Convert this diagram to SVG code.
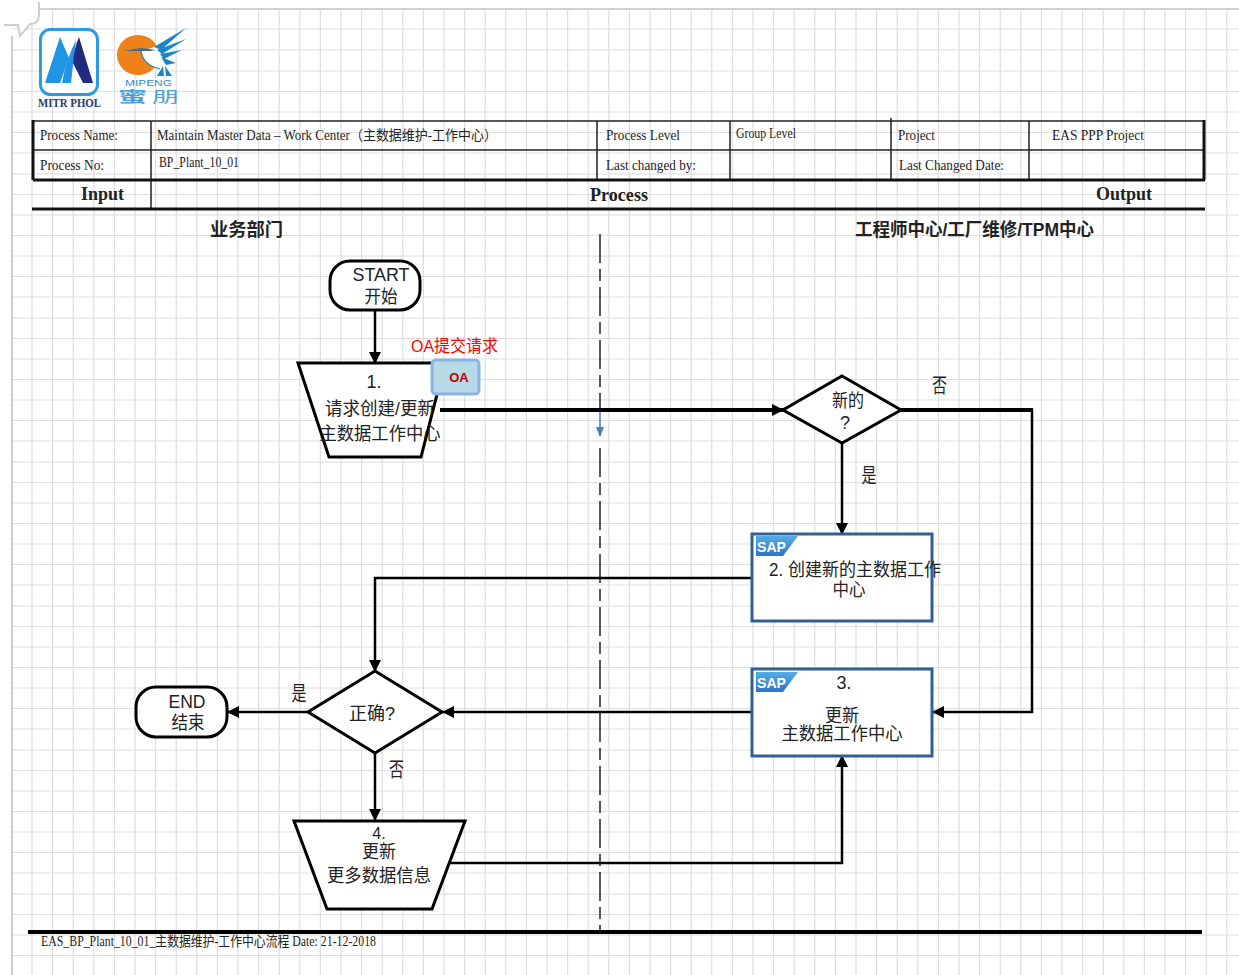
<svg xmlns="http://www.w3.org/2000/svg" width="1239" height="975" viewBox="0 0 1239 975">
<style>
.gl{stroke:#dedede;stroke-width:1.200;fill:none}
.hd{font-family:"Liberation Serif","Noto Sans CJK SC",serif;font-size:14px;fill:#222}
.bh{font-family:"Liberation Serif","Noto Sans CJK SC",serif;font-size:19px;font-weight:bold;fill:#222}
.lane{font-family:"Liberation Sans","Noto Sans CJK SC",sans-serif;font-size:18px;font-weight:bold;fill:#222}
.t{font-family:"Liberation Sans","Noto Sans CJK SC",sans-serif;font-size:18px;fill:#222;text-anchor:middle}
.tall{font-size:20px}
.n{fill:#fff;stroke:#000;stroke-width:3}
.s{fill:#fff;stroke:#335f96;stroke-width:3}
.c{fill:none;stroke:#000;stroke-width:2.500}
.c4{fill:none;stroke:#000;stroke-width:4}
.b{fill:none;stroke:#111;stroke-width:3}
.th{fill:none;stroke:#222;stroke-width:1.500}
</style>
<defs>
<marker id="a" markerUnits="userSpaceOnUse" markerWidth="14" markerHeight="14" refX="11" refY="6" orient="auto"><path d="M0 0L12 6L0 12Z" fill="#000"/></marker>
<linearGradient id="sg" x1="0" y1="0" x2="0" y2="1"><stop offset="0" stop-color="#56ade6"/><stop offset="1" stop-color="#2f74c4"/></linearGradient>
<g id="sap"><path d="M0 0H42L27 20H0Z" fill="url(#sg)"/><text x="1" y="16" font-family="Liberation Sans,sans-serif" font-size="15" font-weight="bold" fill="#fff" textLength="29" lengthAdjust="spacingAndGlyphs">SAP</text></g>
</defs>
<rect width="1239" height="975" fill="#fff"/>
<path class="gl" d="M32 9V975M52.600 9V975M73.200 9V975M93.800 9V975M114.400 9V975M135 9V975M155.600 9V975M176.200 9V975M196.800 9V975M217.400 9V975M238 9V975M258.600 9V975M279.200 9V975M299.800 9V975M320.400 9V975M341 9V975M361.600 9V975M382.200 9V975M402.800 9V975M423.400 9V975M444 9V975M464.600 9V975M485.200 9V975M505.800 9V975M526.400 9V975M547 9V975M567.600 9V975M588.200 9V975M608.800 9V975M629.400 9V975M650 9V975M670.600 9V975M691.200 9V975M711.800 9V975M732.400 9V975M753 9V975M773.600 9V975M794.200 9V975M814.800 9V975M835.400 9V975M856 9V975M876.600 9V975M897.200 9V975M917.800 9V975M938.400 9V975M959 9V975M979.600 9V975M1000.200 9V975M1020.800 9V975M1041.400 9V975M1062 9V975M1082.600 9V975M1103.200 9V975M1123.800 9V975M1144.400 9V975M1165 9V975M1185.600 9V975M1206.200 9V975M1226.800 9V975"/>
<path class="gl" d="M12 29H1239M12 50H1239M12 71H1239M12 91.500H1239M12 112H1239M12 132.500H1239M12 153H1239M12 174H1239M12 194.500H1239M12 215H1239M12 235.500H1239M12 256H1239M12 276.500H1239M12 297H1239M12 318H1239M12 338.500H1239M12 359H1239M12 379.500H1239M12 400H1239M12 420.500H1239M12 441H1239M12 462H1239M12 482.500H1239M12 503H1239M12 523.500H1239M12 544H1239M12 564.500H1239M12 585H1239M12 606H1239M12 626.500H1239M12 647H1239M12 667.500H1239M12 688H1239M12 708.500H1239M12 729H1239M12 750H1239M12 770.500H1239M12 791H1239M12 811.500H1239M12 832H1239M12 852.500H1239M12 873H1239M12 894H1239M12 914.500H1239M12 935H1239M12 955.500H1239"/>
<path d="M12 975V36" stroke="#c9ccd2" stroke-width="2" fill="none"/>
<path d="M38 9H1239" stroke="#d0d0d0" stroke-width="2" fill="none"/>
<path d="M39 2V14Q39 24 30 24L20 36L18 25H4" fill="#fff" stroke="#cfcfcf" stroke-width="2"/>

<g id="logo-mitr">
<rect x="40.500" y="29.500" width="57" height="65" rx="10" fill="#fff" stroke="#2b9be3" stroke-width="3"/>
<path d="M45 83L60 37L69 58L60 83Z" fill="#1f95e4"/>
<path d="M62 83Q66 60 76 40L71 83Z" fill="#1f95e4"/>
<path d="M79 37L93 83H83L73 63Q74 48 79 37Z" fill="#232c7c"/>
<text x="69.500" y="107" text-anchor="middle" font-family="Liberation Serif,serif" font-size="11.500" font-weight="bold" fill="#2c3a75" textLength="63" lengthAdjust="spacingAndGlyphs">MITR PHOL</text>
</g>
<g id="logo-mipeng">
<ellipse cx="138" cy="55" rx="21" ry="20" fill="#ee8118"/>
<path d="M141 51Q143 66 163 70L172 58L166 38L154 47Z" fill="#fff"/>
<path d="M123 51L141 48Q150 49 156 50L150 51L141 51Q134 51 123 51Z" fill="#3b6f96"/>
<path d="M141 51Q143 65 160 69" fill="none" stroke="#2a7fb8" stroke-width="1.200"/>
<path d="M186 28L154 47L161 50ZM186 39L157 50L162 54ZM182 50L160 54L164 59ZM176 63L161 57L166 65Z" fill="#1c86c4"/>
<path d="M157 76L163 66L164 76ZM166 76L165 66L172 76Z" fill="#1c86c4"/>
<text x="125" y="86" font-family="Liberation Sans,sans-serif" font-size="9" fill="#2e8cc8" textLength="47" lengthAdjust="spacingAndGlyphs">MIPENG</text>
<text x="118" y="102" font-family="Noto Sans CJK SC,sans-serif" font-size="15" font-weight="bold" fill="#4aa0d8" textLength="29" lengthAdjust="spacingAndGlyphs">蜜</text>
<text x="152" y="102" font-family="Noto Sans CJK SC,sans-serif" font-size="15" fill="#4aa0d8" textLength="27" lengthAdjust="spacingAndGlyphs">朋</text>
</g>

<g id="header">
<path class="th" d="M33 121H1204M33 150H1204M151 121V208M597 121V180M730 121V180M891 118V180M1029 121V180"/>
<path class="b" d="M33 180H1205M33 120V180M1204 120V180"/>
<path class="b" d="M32 209H1205"/>
<text class="hd" x="40" y="140" textLength="78" lengthAdjust="spacingAndGlyphs">Process Name:</text>
<text class="hd" x="157" y="140" textLength="340" lengthAdjust="spacingAndGlyphs">Maintain Master Data – Work Center（主数据维护-工作中心）</text>
<text class="hd" x="606" y="140" textLength="74" lengthAdjust="spacingAndGlyphs">Process Level</text>
<text class="hd" x="736" y="138" textLength="60" lengthAdjust="spacingAndGlyphs">Group Level</text>
<text class="hd" x="898" y="140" textLength="37" lengthAdjust="spacingAndGlyphs">Project</text>
<text class="hd" x="1052" y="140" textLength="92" lengthAdjust="spacingAndGlyphs">EAS PPP Project</text>
<text class="hd" x="40" y="170" textLength="64" lengthAdjust="spacingAndGlyphs">Process No:</text>
<text class="hd" x="159" y="167" textLength="80" lengthAdjust="spacingAndGlyphs">BP_Plant_10_01</text>
<text class="hd" x="606" y="170" textLength="90" lengthAdjust="spacingAndGlyphs">Last changed by:</text>
<text class="hd" x="899" y="170" textLength="105" lengthAdjust="spacingAndGlyphs">Last Changed Date:</text>
<text class="bh" x="81" y="200" textLength="43" lengthAdjust="spacingAndGlyphs">Input</text>
<text class="bh" x="590" y="201" textLength="58" lengthAdjust="spacingAndGlyphs">Process</text>
<text class="bh" x="1096" y="200" textLength="56" lengthAdjust="spacingAndGlyphs">Output</text>
<text class="lane" x="210" y="236" textLength="73" lengthAdjust="spacingAndGlyphs">业务部门</text>
<text class="lane" x="855" y="236" textLength="239" lengthAdjust="spacingAndGlyphs">工程师中心/工厂维修/TPM中心</text>
</g>

<g id="connectors">
<path d="M600 234V410M600 448V930" stroke="#222" stroke-width="1.500" fill="none" stroke-dasharray="29 6 12 6"/>
<path d="M600 410V436" stroke="#4a7ec4" stroke-width="1.500" fill="none"/>
<path d="M596 427H604L600 437Z" fill="#4a7ec4"/>
<path class="c" d="M375 310V363" marker-end="url(#a)"/>
<path class="c4" d="M440 410H783" marker-end="url(#a)"/>
<path class="c4" d="M901 410H1033"/>
<path class="c" d="M1032 410V712H933" marker-end="url(#a)"/>
<path class="c" d="M842 443V534" marker-end="url(#a)"/>
<path class="c" d="M752 578H375V671" marker-end="url(#a)"/>
<path class="c" d="M752 712H443" marker-end="url(#a)"/>
<path class="c" d="M308 712H228" marker-end="url(#a)"/>
<path class="c" d="M375 753V820" marker-end="url(#a)"/>
<path class="c" d="M450 863H842V756" marker-end="url(#a)"/>
</g>

<g id="start"><rect class="n" x="330" y="261" width="90" height="49" rx="20"/>
<text class="t" x="381" y="281" textLength="57" lengthAdjust="spacingAndGlyphs">START</text><text class="t" x="381" y="303" textLength="33" lengthAdjust="spacingAndGlyphs">开始</text></g>
<g id="n1"><path class="n" d="M298 363H445L421 457H329Z"/>
<text class="t" x="374" y="388">1.</text><text class="t" x="380" y="415" textLength="110" lengthAdjust="spacingAndGlyphs">请求创建/更新</text><text class="t" x="380" y="440" textLength="121" lengthAdjust="spacingAndGlyphs">主数据工作中心</text></g>
<g id="oa"><rect x="432" y="360" width="47" height="34" rx="4" fill="#b7dbe6" stroke="#8db3e2" stroke-width="3"/>
<text x="459" y="382" text-anchor="middle" font-family="Liberation Sans,sans-serif" font-size="13" font-weight="bold" fill="#c00000">OA</text></g>
<text x="411" y="352" font-family="Liberation Sans,Noto Sans CJK SC,sans-serif" font-size="17" fill="#f00" textLength="87" lengthAdjust="spacingAndGlyphs">OA提交请求</text>
<g id="d-new"><path class="n" d="M842 376L901 410L842 443L783 410Z"/>
<text class="t" x="848" y="407" textLength="32" lengthAdjust="spacingAndGlyphs">新的</text><text class="t" x="845" y="429">?</text></g>
<g id="n2"><rect class="s" x="752" y="534" width="180" height="87"/><use href="#sap" x="756" y="536"/>
<text class="t" x="855" y="576" textLength="172" lengthAdjust="spacingAndGlyphs">2. 创建新的主数据工作</text><text class="t" x="849" y="596" textLength="33" lengthAdjust="spacingAndGlyphs">中心</text></g>
<g id="n3"><rect class="s" x="752" y="669" width="180" height="87"/><use href="#sap" x="756" y="672"/>
<text class="t" x="844" y="689">3.</text><text class="t" x="842" y="722" textLength="34" lengthAdjust="spacingAndGlyphs">更新</text><text class="t" x="842" y="740" textLength="121" lengthAdjust="spacingAndGlyphs">主数据工作中心</text></g>
<g id="d-ok"><path class="n" d="M375 671L442 712L375 753L308 712Z"/>
<text class="t" x="372" y="720" textLength="46" lengthAdjust="spacingAndGlyphs">正确?</text></g>
<g id="end"><rect class="n" x="136" y="687" width="91" height="50" rx="20"/>
<text class="t" x="187" y="708" textLength="37" lengthAdjust="spacingAndGlyphs">END</text><text class="t" x="188" y="729" textLength="33" lengthAdjust="spacingAndGlyphs">结束</text></g>
<g id="n4"><path class="n" d="M294 821H465L432 909H327Z"/>
<text class="t" x="379" y="839" style="font-size:16px">4.</text><text class="t" x="379" y="858" textLength="34" lengthAdjust="spacingAndGlyphs">更新</text><text class="t" x="379" y="882" textLength="104" lengthAdjust="spacingAndGlyphs">更多数据信息</text></g>

<text class="t tall" x="939.500" y="393" textLength="15" lengthAdjust="spacingAndGlyphs">否</text>
<text class="t tall" x="869" y="483" textLength="15" lengthAdjust="spacingAndGlyphs">是</text>
<text class="t tall" x="299" y="701" textLength="15" lengthAdjust="spacingAndGlyphs">是</text>
<text class="t tall" x="396.500" y="777" textLength="15" lengthAdjust="spacingAndGlyphs">否</text>

<g id="footer"><path d="M28 932H1202" stroke="#000" stroke-width="4"/>
<text class="hd" x="41" y="946" textLength="335" lengthAdjust="spacingAndGlyphs">EAS_BP_Plant_10_01_主数据维护-工作中心流程  Date: 21-12-2018</text></g>
</svg>
